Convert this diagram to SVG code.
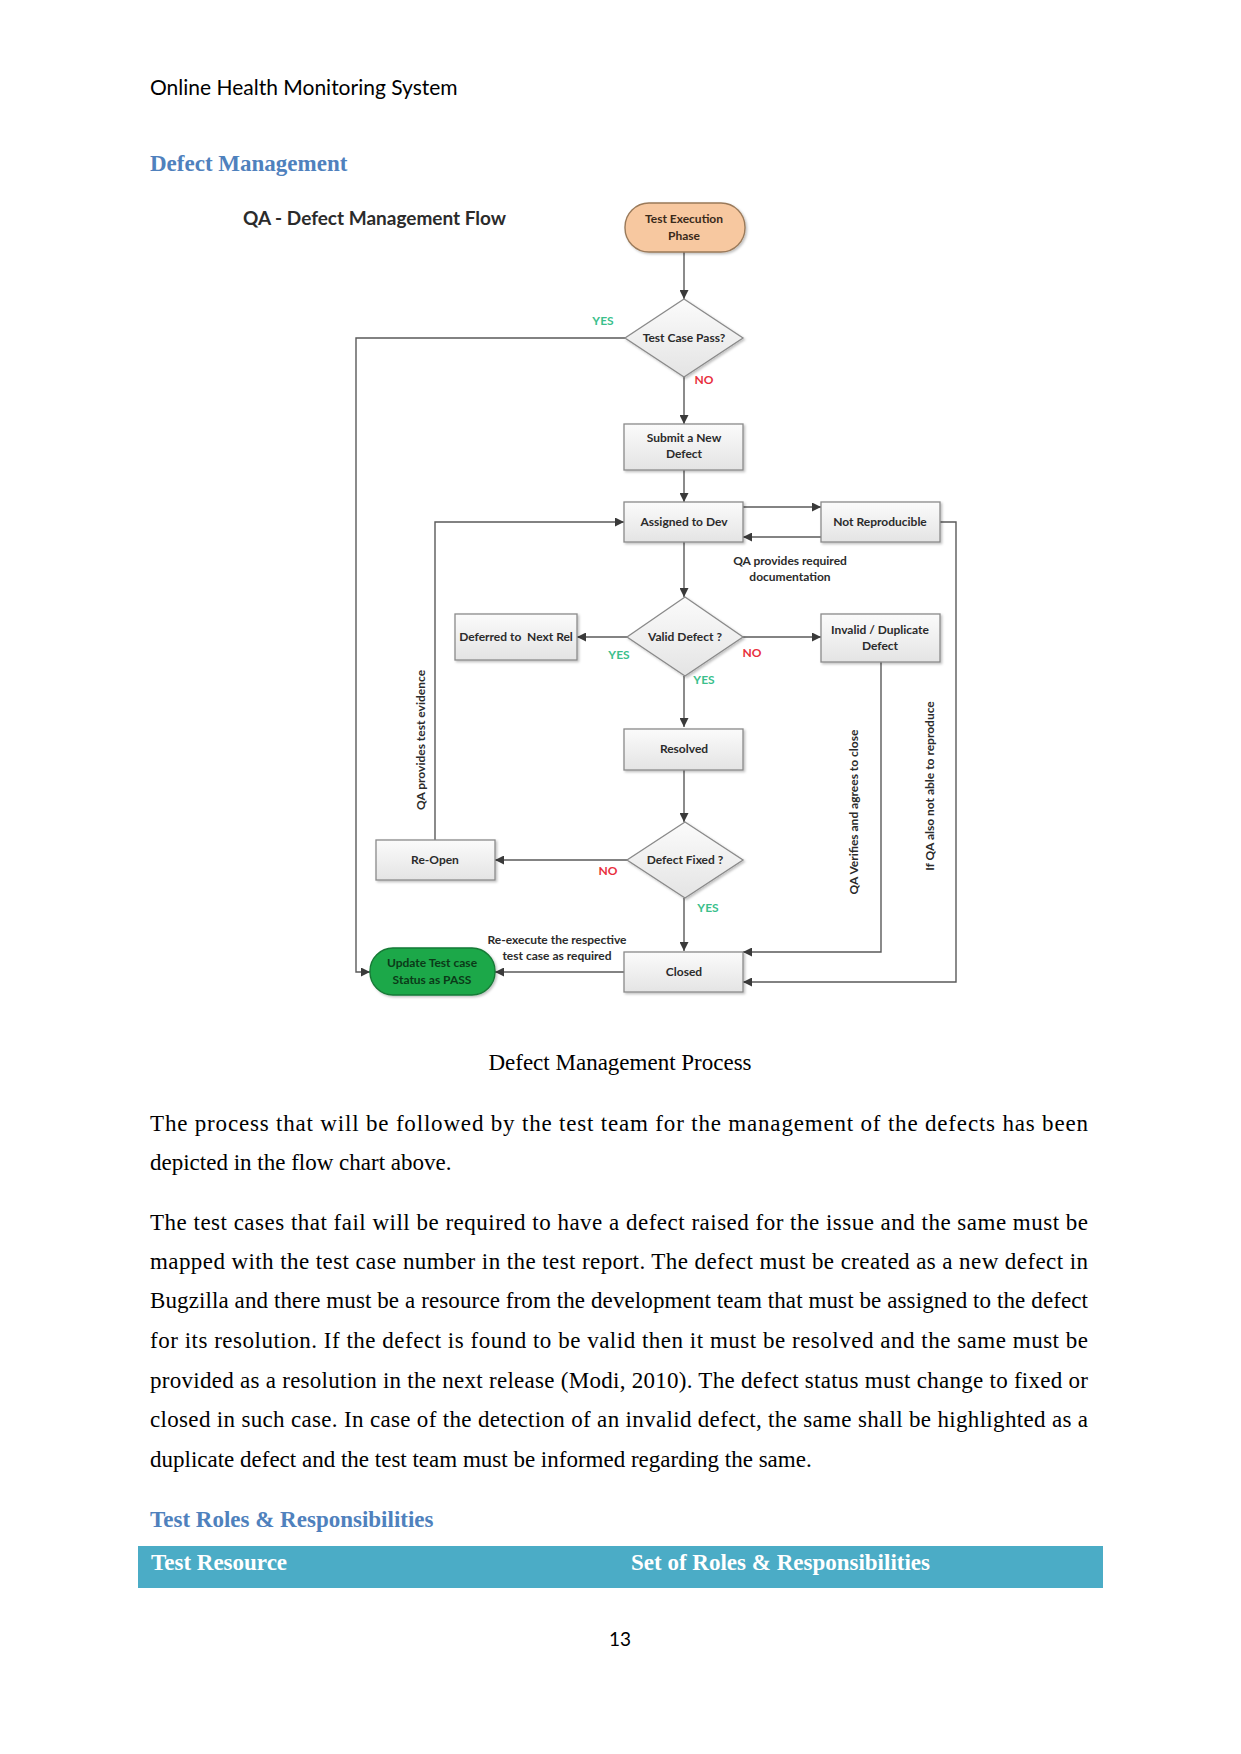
<svg xmlns="http://www.w3.org/2000/svg" width="1241" height="1754" viewBox="0 0 1241 1754">
<style>
.hdr{font-family:Lato,"Liberation Sans",sans-serif;font-size:21px;fill:#000}
.h2{font-family:"Liberation Serif",serif;font-weight:bold;font-size:23px;fill:#4f81bd}
.body{font-family:"Liberation Serif",serif;font-size:23px;fill:#000}
.th{font-family:"Liberation Serif",serif;font-weight:bold;font-size:23px;fill:#fff}
.ttl{font-family:Lato,"Liberation Sans",sans-serif;font-weight:bold;font-size:19px;fill:#2b2b2b}
.nt{font-family:Lato,"Liberation Sans",sans-serif;font-weight:bold;font-size:12px;fill:#2b2b2b;text-anchor:middle;white-space:pre}
.lbl{font-family:Lato,"Liberation Sans",sans-serif;font-weight:bold;font-size:12px;fill:#2b2b2b;text-anchor:middle}
.yes{font-family:Lato,"Liberation Sans",sans-serif;font-weight:bold;font-size:12px;fill:#3bbf8c;text-anchor:middle}
.no{font-family:Lato,"Liberation Sans",sans-serif;font-weight:bold;font-size:12px;fill:#e8303c;text-anchor:middle}
.box{fill:url(#g);stroke:#8a8a8a;stroke-width:1.3;filter:url(#sh)}
.ar{fill:none;stroke:#5a5a5a;stroke-width:1.4;marker-end:url(#m)}
</style>
<defs>
<linearGradient id="g" x1="0" y1="0" x2="0" y2="1">
<stop offset="0" stop-color="#fbfbfb"/>
<stop offset="1" stop-color="#e4e4e4"/>
</linearGradient>
<filter id="sh" x="-10%" y="-10%" width="130%" height="140%">
<feDropShadow dx="1.5" dy="1.5" stdDeviation="1" flood-color="#000" flood-opacity="0.25"/>
</filter>
<marker id="m" markerWidth="9" markerHeight="9" refX="9" refY="4.5" orient="auto" markerUnits="userSpaceOnUse">
<path d="M0,0 L9,4.5 L0,9 z" fill="#3a3a3a"/>
</marker>
</defs>
<rect width="1241" height="1754" fill="#fff"/>

<text class="hdr" x="150" y="95">Online Health Monitoring System</text>
<text class="h2" x="150" y="171">Defect Management</text>
<text class="ttl" x="243" y="225">QA - Defect Management Flow</text>

<g id="connectors">
<path class="ar" d="M684,252 V299"/>
<path class="ar" d="M625,338 H356 V972 H370"/>
<path class="ar" d="M684,377 V424"/>
<path class="ar" d="M684,470 V502"/>
<path class="ar" d="M743,507 H821"/>
<path class="ar" d="M821,537 H743"/>
<path class="ar" d="M940,522 H956 V982 H743"/>
<path class="ar" d="M684,542 V597"/>
<path class="ar" d="M628,637 H577"/>
<path class="ar" d="M743,637 H821"/>
<path class="ar" d="M684,676 V727"/>
<path class="ar" d="M881,662 V952 H743"/>
<path class="ar" d="M684,770 V822"/>
<path class="ar" d="M628,860 H495"/>
<path class="ar" d="M435,840 V522 H624"/>
<path class="ar" d="M684,898 V951"/>
<path class="ar" d="M624,972 H495"/>
</g>

<g id="n-start">
<rect x="625" y="203" width="120" height="49" rx="24" fill="#f7c8a0" stroke="#9a7a5a" stroke-width="1.4" filter="url(#sh)"/>
<text class="nt" x="684" y="223" style="fill:#3a2a1a">Test Execution</text>
<text class="nt" x="684" y="240" style="fill:#3a2a1a">Phase</text>
</g>
<g id="n-pass">
<polygon class="box" points="684,299 743,338 684,377 625,338"/>
<text class="nt" x="684" y="342">Test Case Pass?</text>
</g>
<g id="n-submit">
<rect class="box" x="624" y="424" width="119" height="46"/>
<text class="nt" x="684" y="442">Submit a New</text>
<text class="nt" x="684" y="458">Defect</text>
</g>
<g id="n-assigned">
<rect class="box" x="624" y="502" width="119" height="40"/>
<text class="nt" x="684" y="526">Assigned to Dev</text>
</g>
<g id="n-notrep">
<rect class="box" x="821" y="502" width="119" height="40"/>
<text class="nt" x="880" y="526">Not Reproducible</text>
</g>
<g id="n-valid">
<polygon class="box" points="685,597 743,637 685,676 627,637"/>
<text class="nt" x="685" y="641">Valid Defect ?</text>
</g>
<g id="n-deferred">
<rect class="box" x="455" y="614" width="122" height="46"/>
<text class="nt" x="516" y="641" xml:space="preserve">Deferred to  Next Rel</text>
</g>
<g id="n-invalid">
<rect class="box" x="821" y="614" width="119" height="48"/>
<text class="nt" x="880" y="634">Invalid / Duplicate</text>
<text class="nt" x="880" y="650">Defect</text>
</g>
<g id="n-resolved">
<rect class="box" x="624" y="729" width="119" height="41"/>
<text class="nt" x="684" y="753">Resolved</text>
</g>
<g id="n-fixed">
<polygon class="box" points="685,822 743,860 685,898 627,860"/>
<text class="nt" x="685" y="864">Defect Fixed ?</text>
</g>
<g id="n-reopen">
<rect class="box" x="376" y="840" width="119" height="40"/>
<text class="nt" x="435" y="864">Re-Open</text>
</g>
<g id="n-closed">
<rect class="box" x="624" y="952" width="119" height="40"/>
<text class="nt" x="684" y="976">Closed</text>
</g>
<g id="n-update">
<rect x="370" y="948" width="125" height="47" rx="23" fill="#1fa84a" stroke="#167a36" stroke-width="1.4" filter="url(#sh)"/>
<text class="nt" x="432" y="967" style="fill:#0b3a18">Update Test case</text>
<text class="nt" x="432" y="984" style="fill:#0b3a18">Status as PASS</text>
</g>

<g id="labels">
<text class="yes" x="603" y="325">YES</text>
<text class="no" x="704" y="384">NO</text>
<text class="lbl" x="790" y="565">QA provides required</text>
<text class="lbl" x="790" y="581">documentation</text>
<text class="yes" x="619" y="659">YES</text>
<text class="no" x="752" y="657">NO</text>
<text class="yes" x="704" y="684">YES</text>
<text class="no" x="608" y="875">NO</text>
<text class="yes" x="708" y="912">YES</text>
<text class="lbl" x="557" y="944">Re-execute the respective</text>
<text class="lbl" x="557" y="960">test case as required</text>
<text class="lbl" transform="translate(425,740) rotate(-90)">QA provides test evidence</text>
<text class="lbl" transform="translate(858,812) rotate(-90)">QA Verifies and agrees to close</text>
<text class="lbl" transform="translate(934,786) rotate(-90)">If QA also not able to reproduce</text>
</g>

<text class="body" x="620" y="1070" text-anchor="middle">Defect Management Process</text>

<text class="body" x="150" y="1131" textLength="938" lengthAdjust="spacing">The process that will be followed by the test team for the management of the defects has been</text>
<text class="body" x="150" y="1170">depicted in the flow chart above.</text>

<text class="body" x="150" y="1230" textLength="938" lengthAdjust="spacing">The test cases that fail will be required to have a defect raised for the issue and the same must be</text>
<text class="body" x="150" y="1269" textLength="938" lengthAdjust="spacing">mapped with the test case number in the test report. The defect must be created as a new defect in</text>
<text class="body" x="150" y="1308" textLength="938" lengthAdjust="spacing">Bugzilla and there must be a resource from the development team that must be assigned to the defect</text>
<text class="body" x="150" y="1348" textLength="938" lengthAdjust="spacing">for its resolution. If the defect is found to be valid then it must be resolved and the same must be</text>
<text class="body" x="150" y="1388" textLength="938" lengthAdjust="spacing">provided as a resolution in the next release (Modi, 2010). The defect status must change to fixed or</text>
<text class="body" x="150" y="1427" textLength="938" lengthAdjust="spacing">closed in such case. In case of the detection of an invalid defect, the same shall be highlighted as a</text>
<text class="body" x="150" y="1467">duplicate defect and the test team must be informed regarding the same.</text>

<text class="h2" x="150" y="1527">Test Roles &amp; Responsibilities</text>
<rect x="138" y="1546" width="965" height="42" fill="#4bacc6"/>
<text class="th" x="151" y="1570">Test Resource</text>
<text class="th" x="631" y="1570">Set of Roles &amp; Responsibilities</text>

<text class="hdr" x="620" y="1646" text-anchor="middle" style="font-size:19px">13</text>
</svg>
